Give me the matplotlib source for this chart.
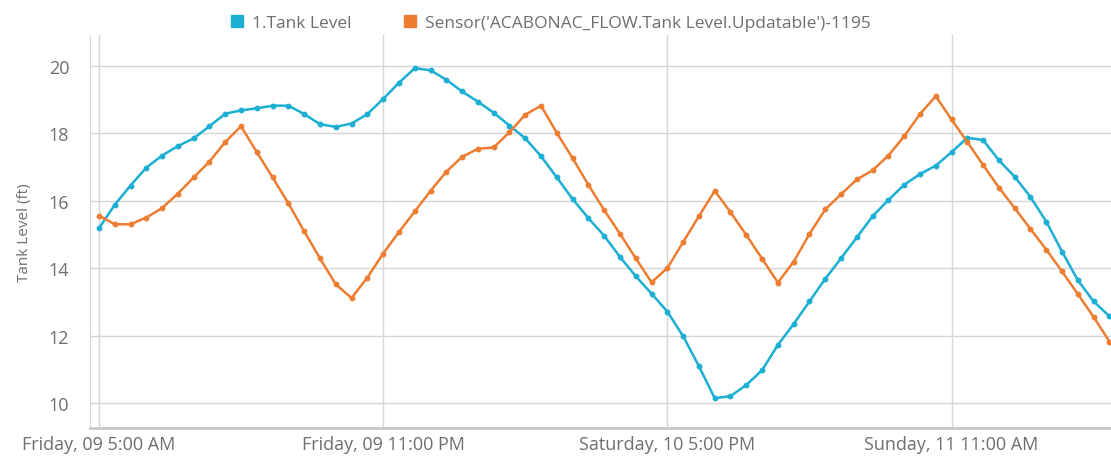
import matplotlib
matplotlib.use('Agg')
import matplotlib.pyplot as plt
import pandas as pd

plt.rcParams['font.family'] = ['Open Sans', 'DejaVu Sans']

# hourly readings starting Friday 09 5:00 AM
start = '2020-10-09 05:00'
tank_level = [15.18, 15.88, 16.45, 16.98, 17.34, 17.62, 17.85, 18.21, 18.58, 18.68,
              18.74, 18.82, 18.82, 18.57, 18.27, 18.19, 18.29, 18.57, 19.02, 19.50,
              19.93, 19.87, 19.59, 19.24, 18.94, 18.61, 18.23, 17.85, 17.32, 16.69,
              16.05, 15.48, 14.96, 14.33, 13.76, 13.24, 12.71, 11.98, 11.09, 10.14,
              10.20, 10.53, 10.97, 11.72, 12.34, 13.01, 13.68, 14.29, 14.91, 15.54,
              16.02, 16.47, 16.79, 17.04, 17.44, 17.87, 17.80, 17.20, 16.71, 16.11,
              15.38, 14.49, 13.64, 13.01, 12.57]
sensor_level = [15.56, 15.30, 15.30, 15.50, 15.78, 16.21, 16.69, 17.16, 17.74, 18.21,
                17.44, 16.69, 15.92, 15.09, 14.29, 13.52, 13.11, 13.72, 14.43, 15.07,
                15.68, 16.29, 16.86, 17.30, 17.54, 17.58, 18.03, 18.55, 18.82, 18.01,
                17.26, 16.47, 15.72, 15.02, 14.29, 13.58, 14.00, 14.77, 15.54, 16.29,
                15.66, 14.98, 14.28, 13.57, 14.19, 15.01, 15.74, 16.19, 16.63, 16.90,
                17.34, 17.91, 18.57, 19.10, 18.41, 17.74, 17.06, 16.39, 15.78, 15.16,
                14.55, 13.90, 13.23, 12.55, 11.82]
series_names = ['1.Tank Level', "Sensor('ACABONAC_FLOW.Tank Level.Updatable')-1195"]
tick_times = ['2020-10-09 05:00', '2020-10-09 23:00', '2020-10-10 17:00', '2020-10-11 11:00']
tick_labels = ['Friday, 09 5:00 AM', 'Friday, 09 11:00 PM',
               'Saturday, 10 5:00 PM', 'Sunday, 11 11:00 AM']
y_ticks = [10, 12, 14, 16, 18, 20]

times = pd.date_range(start, periods=len(tank_level), freq='h')

blue = '#1BAFD3'
orange = '#ED7D31'
grid_c = '#D6D6D6'
text_c = '#6E6E6E'

fig = plt.figure(figsize=(11.11, 4.6), dpi=100)
ax = fig.add_axes([0.081, 0.067, 0.919, 0.855])

ax.plot(times, tank_level, color=blue, lw=1.8, marker='o', ms=3.2, label=series_names[0])
ax.plot(times, sensor_level, color=orange, lw=1.8, marker='o', ms=3.2, label=series_names[1])

ax.set_ylim(9.25, 20.92)
ax.set_xlim(times[0] - pd.Timedelta(minutes=34), times[-1] + pd.Timedelta(minutes=6))
ax.set_yticks(y_ticks)
ax.set_xticks([pd.Timestamp(t) for t in tick_times])
ax.set_xticklabels(tick_labels)
ax.tick_params(length=0, colors=text_c, labelsize=13)
ax.tick_params(axis='x', pad=5)
ax.tick_params(axis='y', pad=15)
ax.grid(True, color=grid_c, lw=1)
ax.set_axisbelow(True)

for s in ['top', 'right']:
    ax.spines[s].set_visible(False)
ax.spines['left'].set_color(grid_c)
ax.spines['bottom'].set_color('#C8C8C8')
ax.spines['bottom'].set_linewidth(2)

ax.set_ylabel('Tank Level (ft)', color=text_c, fontsize=11, labelpad=12)

handles = [plt.Line2D([], [], ls='none', marker='s', ms=9, color=c) for c in (blue, orange)]
leg = fig.legend(handles, series_names, loc='upper center', bbox_to_anchor=(0.494, 1.0),
                 ncol=2, frameon=False, fontsize=12.5, handletextpad=0.25,
                 columnspacing=2.8, handlelength=1.2)
for t in leg.get_texts():
    t.set_color(text_c)

fig.savefig('out.png', dpi=100, facecolor='white')
